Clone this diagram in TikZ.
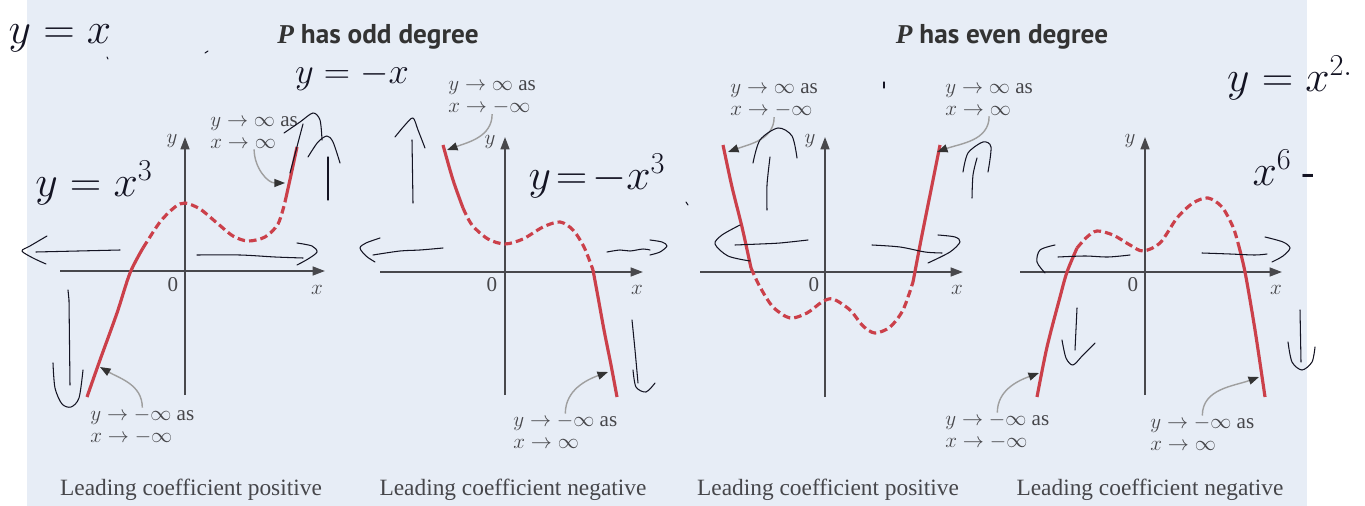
\documentclass[tikz,border=0pt]{standalone}
\usepackage{fontspec}
\setmainfont{Liberation Serif}
\newfontfamily\headfont{PT Sans}
\usetikzlibrary{arrows.meta}

\definecolor{panelblue}{RGB}{231,237,246}
\definecolor{curvered}{RGB}{203,64,74}
\definecolor{axisgrey}{RGB}{72,72,76}
\definecolor{textgrey}{RGB}{70,70,74}
\definecolor{ink}{RGB}{20,20,35}

\tikzset{
  axis/.style={axisgrey, line width=1.1pt, -{Triangle[length=7pt,width=5pt]}},
  endpart/.style={curvered, line width=1.8pt},
  midpart/.style={curvered, line width=1.8pt, dash pattern=on 4.3pt off 2.3pt},
  pointer/.style={draw=gray!75, line width=0.8pt, -{Triangle[length=6pt,width=4.5pt,color=black!80]}},
  limit/.style={text=textgrey, align=left, inner sep=0pt, font=\fontsize{12}{12.5}\selectfont},
  axlabel/.style={text=textgrey, inner sep=0pt, font=\fontsize{12}{14}\selectfont},
  caption/.style={text=textgrey, inner sep=0pt, font=\fontsize{13.3}{15}\selectfont},
  heading/.style={text=black!80, inner sep=0pt, font=\headfont\bfseries\fontsize{15.5}{17}\selectfont},
  hand/.style={text=ink, inner sep=0pt, font=\fontsize{23}{25}\selectfont},
  stroke/.style={ink, line width=0.6pt, line cap=round, line join=round}
}

\begin{document}
\begin{tikzpicture}[x=0.02cm, y=-0.02cm]
    \useasboundingbox (0,0) rectangle (1365,506);
    \fill[panelblue] (27,0) rectangle (1307,506);

    % headings
    \node[heading] (oddhead) at (378,37) {{\rmfamily\itshape P} has odd degree};
    \node[heading] (evenhead) at (1002,37) {{\rmfamily\itshape P} has even degree};

    % axes
    \draw[axis] (60,271) -- (325,271);
    \draw[axis] (185,395) -- (185,137);
    \draw[axis] (380,272) -- (643,272);
    \draw[axis] (505,395) -- (505,137);
    \draw[axis] (700,272) -- (963,272);
    \draw[axis] (825,397) -- (825,137);
    \draw[axis] (1020,272) -- (1282,272);
    \draw[axis] (1145,395) -- (1145,137);

    \node[axlabel] (o1) at (173,285) {0};
    \node[axlabel] (x1) at (317,290) {$x$};
    \node[axlabel] (y1) at (172,141) {$y$};
    \node[axlabel] (o2) at (492,285) {0};
    \node[axlabel] (x2) at (637,290) {$x$};
    \node[axlabel] (y2) at (490,142) {$y$};
    \node[axlabel] (o3) at (814,285) {0};
    \node[axlabel] (x3) at (957,290) {$x$};
    \node[axlabel] (y3) at (810,141) {$y$};
    \node[axlabel] (o4) at (1133,285) {0};
    \node[axlabel] (x4) at (1276,290) {$x$};
    \node[axlabel] (y4) at (1130,141) {$y$};

    % odd degree, positive
    \draw[endpart] plot[smooth] coordinates {(87,397) (100,360) (117,313) (130,273) (143,248)};
    \draw[midpart] plot[smooth] coordinates {(143,248) (160,222) (175,207) (185,203) (200,209) (217,223) (233,236) (248,241) (265,237) (278,224) (285,202)};
    \draw[endpart] plot[smooth] coordinates {(285,202) (291,175) (297,147)};
    % odd degree, negative
    \draw[endpart] plot[smooth] coordinates {(443,145) (453,180) (463,208)};
    \draw[midpart] plot[smooth] coordinates {(463,208) (472,225) (488,239) (505,244) (523,239) (543,227) (560,222) (573,230) (584,247) (593,270)};
    \draw[endpart] plot[smooth] coordinates {(593,270) (598,297) (604,330) (611,365) (617,397)};
    % even degree, positive
    \draw[endpart] plot[smooth] coordinates {(723,145) (732,187) (742,227) (751,268)};
    \draw[midpart] plot[smooth] coordinates {(751,268) (760,287) (773,307) (790,318) (807,313) (822,302) (833,299) (850,310) (863,326) (875,333) (890,327) (903,310) (913,282)};
    \draw[endpart] plot[smooth] coordinates {(913,282) (921,240) (930,195) (940,145)};
    % even degree, negative
    \draw[endpart] plot[smooth] coordinates {(1037,397) (1047,347) (1060,297) (1067,272) (1077,248)};
    \draw[midpart] plot[smooth] coordinates {(1077,248) (1087,237) (1097,231) (1113,235) (1130,245) (1143,251) (1160,243) (1177,218) (1193,203) (1208,198) (1222,207) (1233,227) (1238,243)};
    \draw[endpart] plot[smooth] coordinates {(1238,243) (1245,272) (1255,330) (1265,397)};

    % end behaviour labels
    \node[limit, anchor=west] (g1up) at (210,133) {$y \to \infty$ as\\$x \to \infty$};
    \node[limit, anchor=west] (g1lo) at (90,426) {$y \to -\infty$ as\\$x \to -\infty$};
    \node[limit, anchor=west] (g2up) at (448,97) {$y \to \infty$ as\\$x \to -\infty$};
    \node[limit, anchor=west] (g2lo) at (513,431) {$y \to -\infty$ as\\$x \to \infty$};
    \node[limit, anchor=west] (g3ul) at (730,100) {$y \to \infty$ as\\$x \to -\infty$};
    \node[limit, anchor=west] (g3ur) at (945,100) {$y \to \infty$ as\\$x \to \infty$};
    \node[limit, anchor=west] (g4ll) at (945,431) {$y \to -\infty$ as\\$x \to -\infty$};
    \node[limit, anchor=west] (g4lr) at (1150,433) {$y \to -\infty$ as\\$x \to \infty$};

    \coordinate (t1) at (285,183);
    \coordinate (t2) at (100,367);
    \coordinate (t3) at (447,150);
    \coordinate (t4) at (608,372);
    \coordinate (t5) at (728,152);
    \coordinate (t6) at (937,152);
    \coordinate (t7) at (1039,373);
    \coordinate (t8) at (1259,377);
    \draw[pointer] (g1up.south) to[out=-90, in=180] (t1);
    \draw[pointer] (g1lo.north) to[out=90, in=-30] (t2);
    \draw[pointer] (g2up.south) to[out=-90, in=20] (t3);
    \draw[pointer] (g2lo.north) to[out=90, in=200] (t4);
    \draw[pointer] (g3ul.south) to[out=-90, in=20] (t5);
    \draw[pointer] (g3ur.south) to[out=-90, in=20] (t6);
    \draw[pointer] (g4ll.north) to[out=90, in=200] (t7);
    \draw[pointer] (g4lr.north) to[out=90, in=200] (t8);

    % captions
    \node[caption] (cap1) at (191,490) {Leading coefficient positive};
    \node[caption] (cap2) at (513,490) {Leading coefficient negative};
    \node[caption] (cap3) at (828,490) {Leading coefficient positive};
    \node[caption] (cap4) at (1150,490) {Leading coefficient negative};

    % handwritten notes
    \node[hand] (hw1) at (60,38) {$y=x$};
    \node[hand, font=\fontsize{22}{24}\selectfont] (hw2) at (352,76) {$y= -x$};
    \node[hand] (hw3) at (94,183) {$y=x^3$};
    \node[hand] (hw4) at (597,176) {$y\!=\!-x^3$};
    \node[hand] (hw5) at (1290,78) {$y=x^{2.}$};
    \node[hand] (hw6) at (1284,168) {$x^6$ -};
    \draw[stroke] (107,57) -- (108,59);
    \draw[stroke] (205,53) -- (208,51);
    \draw[stroke] (686,202) -- (688,205);
    \draw[stroke] (884,82) -- (884,88);

    \draw[stroke] (120,250) -- (36,252);
    \draw[stroke] plot[smooth] coordinates {(47,236) (30,246) (22,251) (33,258) (46,264)};
    \draw[stroke] plot[smooth] coordinates {(197,255) (240,255) (275,257) (303,258)};
    \draw[stroke] plot[smooth] coordinates {(297,243) (312,246) (317,252) (308,259) (297,265)};
    \draw[stroke] (68,290) -- (69,300) -- (70,385);
    \draw[stroke] plot[smooth] coordinates {(53,363) (55,388) (62,404) (71,407) (79,398) (83,370)};
    \draw[stroke] (290,173) -- (303,124);
    \draw[stroke] plot[smooth] coordinates {(284,133) (300,122) (313,113) (320,120) (322,140)};
    \draw[stroke] (328,200) -- (328,157);
    \draw[stroke] plot[smooth] coordinates {(308,157) (318,142) (327,136) (333,142) (340,163)};

    \draw[stroke] (413,203) -- (412,140);
    \draw[stroke] plot[smooth] coordinates {(395,137) (405,125) (413,118) (418,130) (425,148)};
    \draw[stroke] plot[smooth] coordinates {(443,248) (420,250) (400,251) (373,255)};
    \draw[stroke] plot[smooth] coordinates {(380,238) (366,243) (360,248) (366,256) (375,262)};
    \draw[stroke] plot[smooth] coordinates {(607,252) (620,250) (630,251) (643,249) (650,250)};
    \draw[stroke] plot[smooth] coordinates {(650,240) (662,242) (667,246) (660,252) (650,255)};
    \draw[stroke] plot[smooth] coordinates {(632,320) (635,350) (638,383)};
    \draw[stroke] plot[smooth] coordinates {(633,370) (636,387) (646,392) (655,383)};

    \draw[stroke] plot[smooth] coordinates {(767,210) (767,185) (770,157)};
    \draw[stroke] plot[smooth] coordinates {(753,163) (760,140) (778,128) (792,136) (797,158)};
    \draw[stroke] plot[smooth] coordinates {(972,198) (973,175) (977,158)};
    \draw[stroke] plot[smooth] coordinates {(963,172) (968,153) (983,142) (991,147) (988,172)};
    \draw[stroke] plot[smooth] coordinates {(808,240) (780,243) (760,244) (735,245)};
    \draw[stroke] plot[smooth] coordinates {(740,225) (722,235) (715,244) (728,256) (750,261)};
    \draw[stroke] plot[smooth] coordinates {(872,245) (900,247) (925,252) (942,253)};
    \draw[stroke] plot[smooth] coordinates {(938,235) (955,237) (960,242) (950,252) (928,263)};

    \draw[stroke] plot[smooth] coordinates {(1058,257) (1085,256) (1108,257) (1130,255)};
    \draw[stroke] plot[smooth] coordinates {(1055,245) (1040,250) (1037,262) (1045,273)};
    \draw[stroke] plot[smooth] coordinates {(1202,253) (1230,254) (1255,255) (1267,254)};
    \draw[stroke] plot[smooth] coordinates {(1265,237) (1283,242) (1290,248) (1283,256) (1272,262)};
    \draw[stroke] (1077,308) -- (1075,350);
    \draw[stroke] plot[smooth] coordinates {(1062,340) (1066,358) (1073,365) (1083,355) (1095,343)};
    \draw[stroke] (1300,310) -- (1301,362);
    \draw[stroke] plot[smooth] coordinates {(1288,342) (1292,362) (1302,370) (1312,362) (1315,347)};
\end{tikzpicture}
\end{document}
